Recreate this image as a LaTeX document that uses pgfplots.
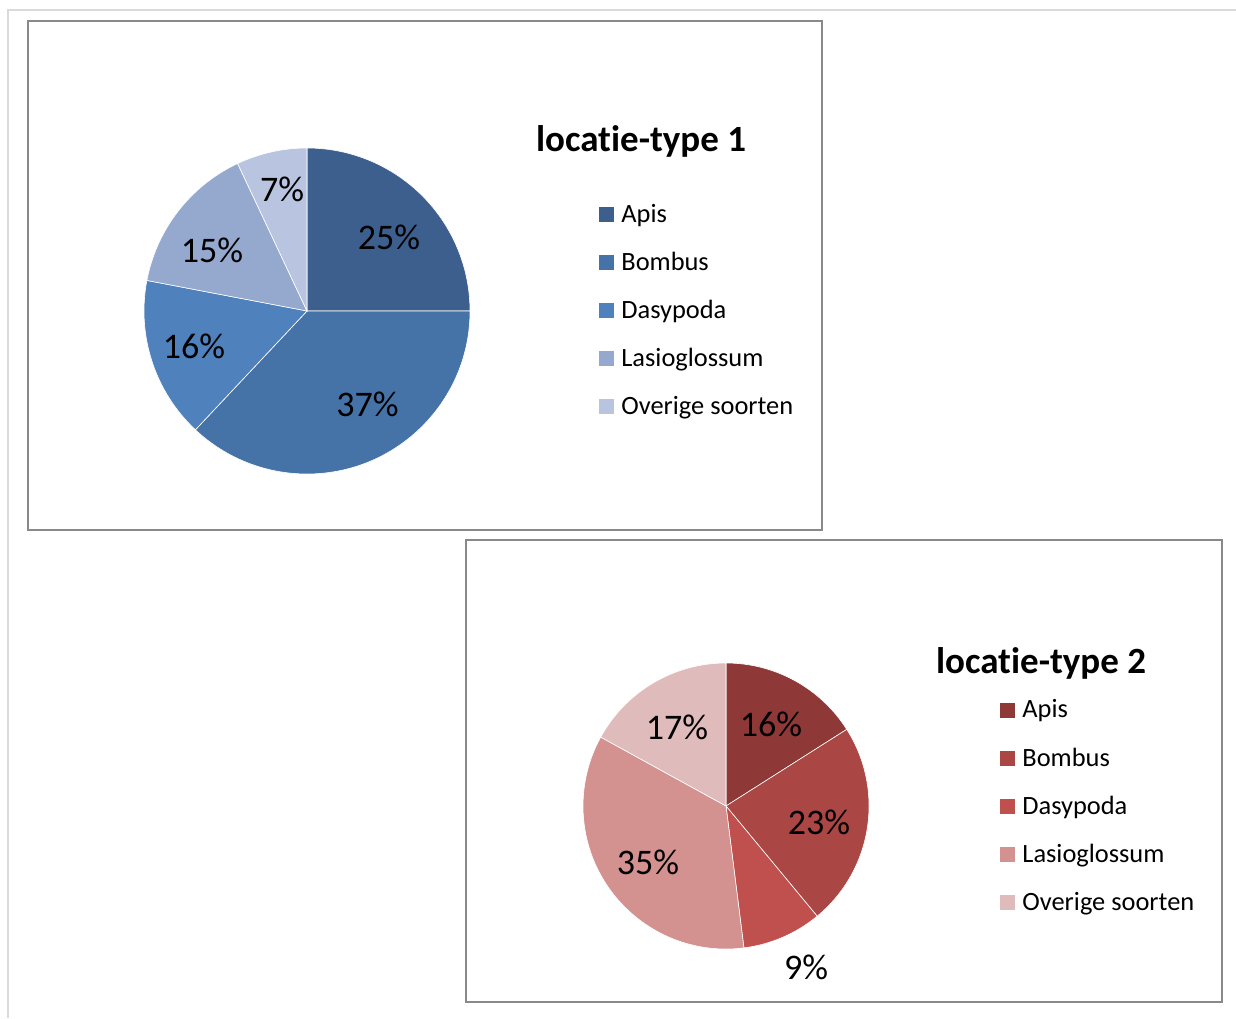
\documentclass[border=0pt]{standalone}
\usepackage{fontspec}
\setmainfont{Carlito}[Ligatures=NoCommon, Contextuals=NoAlternate]
\usepackage{pgfplots}
\usepackage{pgfplotstable}
\pgfplotsset{compat=1.18}

\definecolor{pA1}{HTML}{3C5F8E}
\definecolor{pA2}{HTML}{4572A7}
\definecolor{pA3}{HTML}{4F81BD}
\definecolor{pA4}{HTML}{95A9CF}
\definecolor{pA5}{HTML}{B9C5E0}
\definecolor{pB1}{HTML}{8E3937}
\definecolor{pB2}{HTML}{AA4643}
\definecolor{pB3}{HTML}{C0504D}
\definecolor{pB4}{HTML}{D39190}
\definecolor{pB5}{HTML}{E0BBBB}
\definecolor{boxgray}{HTML}{898989}
\definecolor{pagegray}{HTML}{DADADA}

% values (percent) and label positions (image pixels)
\pgfplotstableread[col sep=comma]{
name,val,lx,ly
Apis,25,389,237.5
Bombus,37,367.5,404
Dasypoda,16,194,346
Lasioglossum,15,212,250
Overige soorten,7,282,189
}\tabA
\pgfplotstableread[col sep=comma]{
name,val,lx,ly
Apis,16,771,724
Bombus,23,819,822
Dasypoda,9,806,967
Lasioglossum,35,648,862
Overige soorten,17,677,727
}\tabB

\newcommand{\lblfont}{\fontsize{18}{21.6}\selectfont}
\newcommand{\legfont}{\fontsize{13.2}{15.8}\selectfont}
\newcommand{\ttlfont}{\fontsize{18.5}{22}\selectfont\bfseries}

% #1 table, #2 cx px, #3 cy px, #4 radius, #5 colour prefix, #6 legend x px, #7 first legend y px
\newcommand{\drawpie}[7]{%
  \gdef\cum{0}%
  \pgfmathsetmacro\cyy{1018-#3}%
  \foreach \i in {0,...,4}{%
    \pgfplotstablegetelem{\i}{val}\of#1\edef\v{\pgfplotsretval}%
    \pgfmathsetmacro\sa{90-3.6*\cum}%
    \pgfmathsetmacro\ea{90-3.6*(\cum+\v)}%
    \pgfmathtruncatemacro\k{\i+1}%
    \fill[#5\k, draw=white, line width=0.3pt] (axis cs:#2,\cyy) -- ([shift={(\sa:#4)}]axis cs:#2,\cyy) arc[start angle=\sa, end angle=\ea, radius=#4] -- cycle;
    \pgfmathsetmacro\newcum{\cum+\v}\xdef\cum{\newcum}%
  }%
  \foreach \i in {0,...,4}{%
    \pgfplotstablegetelem{\i}{val}\of#1\edef\v{\pgfplotsretval}%
    \pgfplotstablegetelem{\i}{lx}\of#1\edef\lx{\pgfplotsretval}%
    \pgfplotstablegetelem{\i}{ly}\of#1\edef\ly{\pgfplotsretval}%
    \pgfplotstablegetelem{\i}{name}\of#1\edef\nm{\pgfplotsretval}%
    \pgfmathtruncatemacro\k{\i+1}%
    \pgfmathsetmacro\lyy{1018-\ly}%
    \node[font=\lblfont, inner sep=0pt] at (axis cs:\lx,\lyy) {\v\%};
    \pgfmathsetmacro\sqb{1018-(#7+48*\i)-7.5}%
    \pgfmathsetmacro\sqt{1018-(#7+48*\i)+7.5}%
    \pgfmathsetmacro\sqr{#6+15}%
    \pgfmathsetmacro\tx{#6+22}%
    \pgfmathsetmacro\tb{1018-(#7+48*\i)-8}%
    \fill[#5\k] (axis cs:#6,\sqb) rectangle (axis cs:\sqr,\sqt);
    \node[font=\legfont, anchor=base west, inner sep=0pt] at (axis cs:\tx,\tb) {\nm};
  }%
}

\begin{document}
\begin{tikzpicture}
\useasboundingbox (0,0) rectangle (618pt,509pt);
\draw[pagegray, line width=1pt] (4pt,0pt) -- (4pt,504pt) -- (618pt,504pt);

\begin{axis}[at={(14pt,244pt)}, anchor=south west,
  width=397pt, height=254.5pt, scale only axis,
  xmin=28, xmax=822, ymin=488, ymax=997,
  disabledatascaling,
  axis line style={draw=boxgray, line width=1pt},
  xtick=\empty, ytick=\empty, clip=false]
\pgfplotsextra{%
  \drawpie{\tabA}{307}{311}{81.5pt}{pA}{599}{215}%
  \node[font=\ttlfont, anchor=base] at (axis cs:641,866) {locatie-type 1};
}
\end{axis}

\begin{axis}[at={(233pt,8pt)}, anchor=south west,
  width=378pt, height=231pt, scale only axis,
  xmin=466, xmax=1222, ymin=16, ymax=478,
  disabledatascaling,
  axis line style={draw=boxgray, line width=1pt},
  xtick=\empty, ytick=\empty, clip=false]
\pgfplotsextra{%
  \drawpie{\tabB}{726}{806}{71.5pt}{pB}{1000}{710}%
  \node[font=\ttlfont, anchor=base] at (axis cs:1041,344) {locatie-type 2};
}
\end{axis}
\end{tikzpicture}
\end{document}
